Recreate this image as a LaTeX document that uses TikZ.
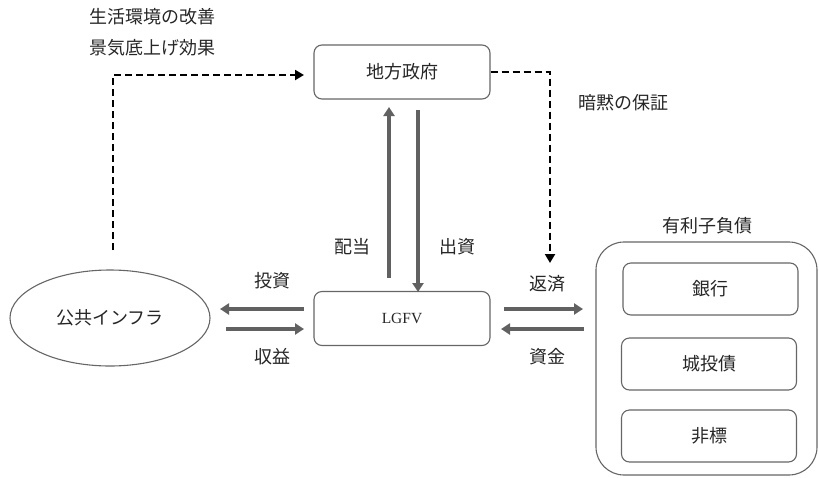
\documentclass[tikz,border=0pt]{standalone}
\usepackage{fontspec}
\newfontfamily\cjk{Noto Sans CJK JP}
\setmainfont{Liberation Serif}
\usetikzlibrary{arrows.meta,shapes.geometric}
\begin{document}
\begin{tikzpicture}[x=1pt,y=-1pt,
  box/.style={draw=black!60,line width=1.1pt,rounded corners=8pt,minimum width=176pt,minimum height=54pt,inner sep=0pt,font=\cjk\fontsize{18}{21}\selectfont,text=black!85},
  ibox/.style={draw=black!60,line width=1.1pt,rounded corners=8pt,minimum width=175pt,minimum height=52pt,inner sep=0pt,font=\cjk\fontsize{18}{21}\selectfont,text=black!85},
  lbl/.style={font=\cjk\fontsize{18}{21}\selectfont,text=black!85,inner sep=0pt},
  flow/.style={draw=black!62,line width=3.8pt,-{Triangle[length=9pt,width=11pt]}},
  dashline/.style={draw=black,line width=2pt,dash pattern=on 7pt off 4pt,-{Triangle[length=9pt,width=10pt]}}
]
\useasboundingbox (0,0) rectangle (819,477);
\node[box] (gov) at (402,72) {地方政府};
\node[box,font=\fontsize{15.5}{18}\selectfont] (lgfv) at (402,318.5) {LGFV};
\node[ellipse,draw=black!60,line width=1.1pt,minimum width=200pt,minimum height=96pt,inner sep=0pt,font=\cjk\fontsize{18}{21}\selectfont,text=black!85] (infra) at (110,318) {公共インフラ};
\node[draw=black!60,line width=1.1pt,rounded corners=28pt,minimum width=221pt,minimum height=233pt,inner sep=0pt] (debt) at (706.5,358.5) {};
\node[lbl] (debtl) at (707,226) {有利子負債};
\node[ibox] (bank) at (710.5,289) {銀行};
\node[ibox] (bond) at (709,364) {城投債};
\node[ibox] (nonstd) at (709,436) {非標};

\node[lbl,anchor=west] (t1) at (89,17) {生活環境の改善};
\node[lbl,anchor=west] (t2) at (89,48) {景気底上げ効果};
\node[lbl,anchor=west] (t3) at (578,103) {暗黙の保証};
\node[lbl] (haito) at (352,247) {配当};
\node[lbl] (shusshi) at (457,247) {出資};
\node[lbl] (toushi) at (272,281) {投資};
\node[lbl] (shueki) at (272,357) {収益};
\node[lbl] (hensai) at (547,284) {返済};
\node[lbl] (shikin) at (547,357) {資金};

% vertical flows
\coordinate (u1) at (389,278);
\coordinate (u2) at (389,107);
\coordinate (d1) at (418,110);
\coordinate (d2) at (418,292);
\draw[flow] (u1) -- (u2);
\draw[flow] (d1) -- (d2);

% left flows
\coordinate (l1) at (304,309);
\coordinate (l2) at (220,309);
\coordinate (l3) at (226,329);
\coordinate (l4) at (304,329);
\draw[flow] (l1) -- (l2);
\draw[flow] (l3) -- (l4);

% right flows
\coordinate (r1) at (504,309);
\coordinate (r2) at (583,309);
\coordinate (r3) at (584,329);
\coordinate (r4) at (501,329);
\draw[flow] (r1) -- (r2);
\draw[flow] (r3) -- (r4);

% dashed
\coordinate (a1) at (113,250);
\coordinate (a2) at (304,75);
\draw[dashline] (a1) |- (a2);
\coordinate (b2) at (550,263);
\draw[dashline] (gov.east |- 0,72) -| (b2);
\end{tikzpicture}
\end{document}
